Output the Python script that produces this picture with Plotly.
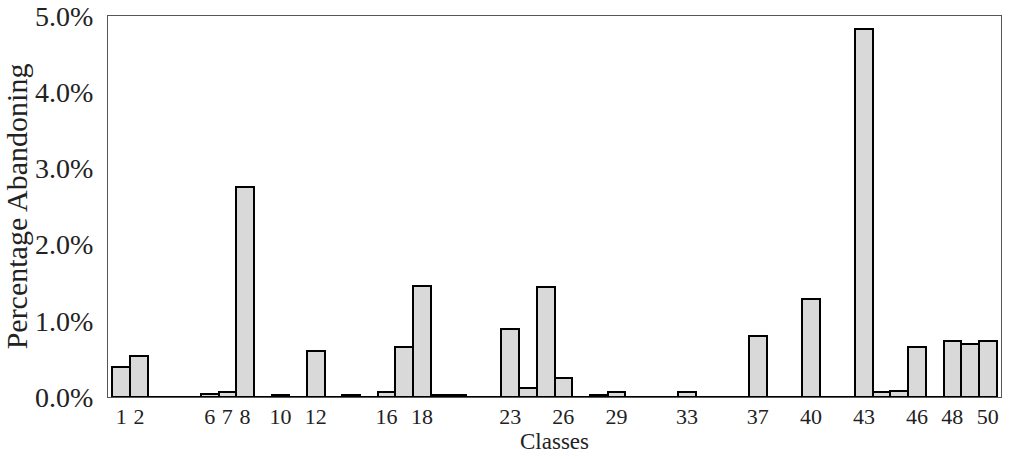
import plotly.graph_objects as go

classes = list(range(1, 51))
pct = [0.40, 0.54, 0, 0, 0, 0.04, 0.06, 2.76, 0, 0.03,
       0, 0.61, 0, 0.02, 0, 0.07, 0.66, 1.46, 0.02, 0.02,
       0, 0, 0.89, 0.12, 1.44, 0.25, 0, 0.02, 0.07, 0,
       0, 0, 0.07, 0, 0, 0, 0.80, 0, 0, 1.29,
       0, 0, 4.83, 0.07, 0.08, 0.65, 0, 0.73, 0.70, 0.74]
tick_classes = [1, 2, 6, 7, 8, 10, 12, 16, 18, 23, 26, 29, 33, 37, 40, 43, 46, 48, 50]
y_ticks = [0, 0.01, 0.02, 0.03, 0.04, 0.05]
y_labels = ["0.0%", "1.0%", "2.0%", "3.0%", "4.0%", "5.0%"]

values = [v / 100 for v in pct]

fig = go.Figure(go.Bar(
    x=classes, y=values, width=1.0,
    marker=dict(color="#d9d9d9", line=dict(color="black", width=2)),
))

font = "Liberation Serif, Times New Roman, serif"
fig.update_layout(
    width=1016, height=459,
    margin=dict(l=108, r=15, t=16, b=62),
    paper_bgcolor="white", plot_bgcolor="white",
    showlegend=False,
    font=dict(family=font, color="#222"),
    bargap=0,
)
fig.update_xaxes(
    range=[0.25, 50.75], tickvals=tick_classes, ticktext=[str(c) for c in tick_classes],
    tickfont=dict(size=22, family=font), showgrid=False, zeroline=False,
    showline=True, mirror=True, linecolor="#555", linewidth=1, ticks="",
    automargin=False,
    title=dict(text="Classes", font=dict(size=23, family=font), standoff=2),
)
fig.update_yaxes(
    range=[0, 0.05], tickvals=y_ticks, ticktext=y_labels,
    tickfont=dict(size=28, family=font), showgrid=False, zeroline=False,
    showline=True, mirror=True, linecolor="#555", linewidth=1, ticks="",
    ticklabelstandoff=8, automargin=False,
    title=dict(text="Percentage Abandoning", font=dict(size=30, family=font), standoff=2),
)
fig.write_html("out.html", config={"displayModeBar": False},
               post_script="document.body.style.margin='0px';")
